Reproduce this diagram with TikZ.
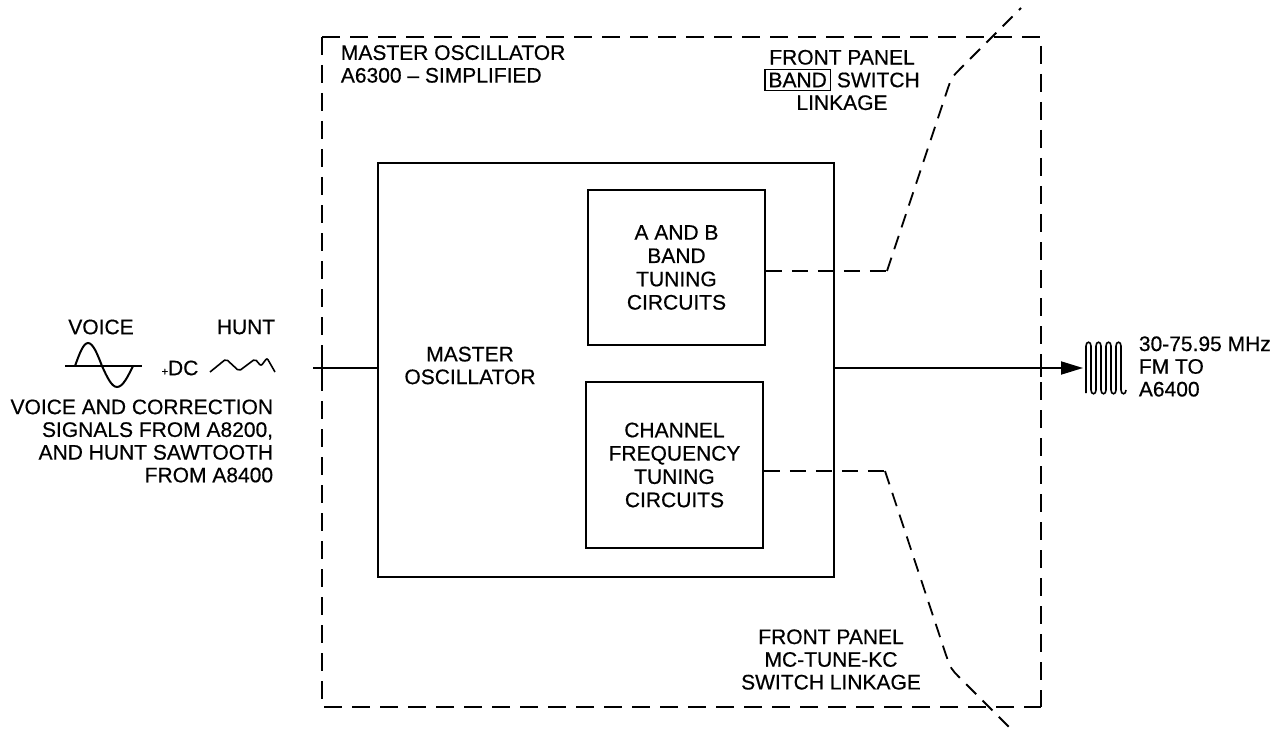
\documentclass[tikz,border=0pt]{standalone}
\usepackage{fontspec}
\setmainfont{Liberation Sans}[UprightFeatures={FakeBold=0.5}]
\usetikzlibrary{arrows.meta}
\setlength{\fboxsep}{3pt}
\setlength{\fboxrule}{1.2pt}
\begin{document}
\begin{tikzpicture}[x=1pt,y=-1pt,line width=1.8pt,
  txt/.style={font=\fontsize{21}{22.7}\selectfont,inner sep=0pt,align=center},
  blk/.style={draw,line width=1.8pt,inner sep=0pt,align=center,font=\fontsize{21}{23.3}\selectfont},
  outerline/.style={dash pattern=on 18pt off 10pt},
  linkline/.style={dash pattern=on 14pt off 9pt},
  hlinkline/.style={dash pattern=on 16pt off 10pt}]
\useasboundingbox (0,0) rectangle (1276,730);

% outer dashed enclosure
\coordinate (otl) at (322,37);
\coordinate (otr) at (1041,37);
\coordinate (obl) at (322,707);
\coordinate (obr) at (1041,707);
\draw[outerline] (otl) -- (otr) -- (obr);
\draw[outerline] (otl) -- (obl) -- (obr);

% blocks
\node[blk,minimum width=456pt,minimum height=414pt] (master) at (606,370) {};
\node[blk,minimum width=177pt,minimum height=155pt] (ab) at (676.5,267.5) {A AND B\\BAND\\TUNING\\CIRCUITS};
\node[blk,minimum width=177pt,minimum height=166pt] (ch) at (674.5,465) {CHANNEL\\FREQUENCY\\TUNING\\CIRCUITS};
\node[txt] (mlabel) at (470,365.5) {MASTER\\OSCILLATOR};

% titles
\node[txt,align=left,anchor=west] (title) at (340,64) {MASTER OSCILLATOR\\A6300 -- SIMPLIFIED};
\node[txt] (bandlbl) at (842,80) {FRONT PANEL\\\fbox{BAND} SWITCH\\LINKAGE};
\node[txt] (mclbl) at (831,659.5) {FRONT PANEL\\MC-TUNE-KC\\SWITCH LINKAGE};

% band switch linkage
\coordinate (k1) at (887,271);
\coordinate (k2) at (947,91);
\coordinate (k3) at (951.5,77.5);
\coordinate (k4) at (962,67);
\coordinate (k5) at (1021,8);
\draw[hlinkline] (ab.east |- k1) -- (k1);
\draw[linkline] (k1) -- (k2) .. controls (k3) .. (k4) -- (k5);

% MC-TUNE-KC linkage
\coordinate (m1) at (885,471);
\coordinate (m2) at (946,655);
\coordinate (m3) at (951,669);
\coordinate (m4) at (960,678);
\coordinate (m5) at (1011,729);
\draw[hlinkline] (ch.east |- m1) -- (m1);
\draw[linkline] (m1) -- (m2) .. controls (m3) .. (m4) -- (m5);

% input
\coordinate (in) at (313,368);
\draw (in) -- (master.west |- in);
\draw (322,361) -- (322,376);
% output
\coordinate (out) at (1083,368);
\draw[-{Triangle[length=22pt,width=13pt]}] (master.east |- out) -- (out);
\draw (1041,360) -- (1041,377);

% RF symbol
\draw[line width=1.6pt] (1086,393)
  \foreach \i in {0,2,4,6} { -- (1086+5*\i,346) .. controls +(0,-5) and +(0,-5) .. (1091+5*\i,346)
     -- (1091+5*\i,390) .. controls +(0,5) and +(0,5) .. (1096+5*\i,390) };
\node[txt,align=left,anchor=west] (outlbl) at (1138,366.5) {30-75.95 MHz\\FM TO\\A6400};

% input signals
\node[txt] (voice) at (101,327) {VOICE};
\node[txt] (hunt) at (246,327) {HUNT};
\draw (65,366) -- (142,366);
\draw[line width=2pt] (75,366) sin (88,343) cos (102,366) sin (117,387) cos (133,366);
\node[txt] (dc) at (180,368) {{\fontsize{11}{11}\selectfont +}DC};
\draw[line width=1.6pt,rounded corners=2pt] (210,372) -- (226,359) -- (239,371) -- (255,359) -- (261,366) -- (267,358) -- (275,372);
\node[txt,align=right,anchor=east] (inlbl) at (274,441) {VOICE AND CORRECTION\\SIGNALS FROM A8200,\\AND HUNT SAWTOOTH\\FROM A8400};
\end{tikzpicture}
\end{document}
